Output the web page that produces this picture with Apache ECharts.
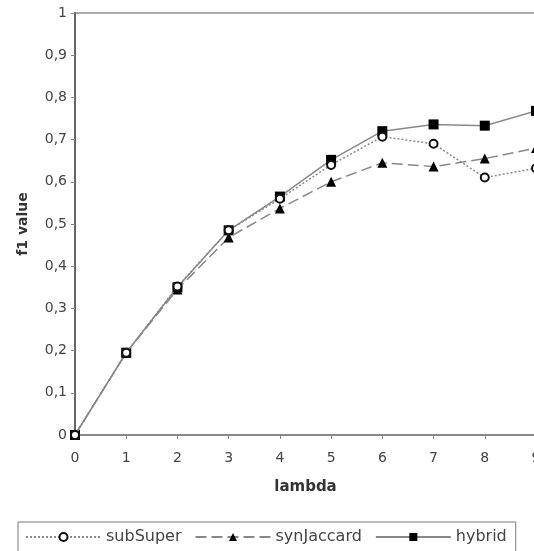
<!DOCTYPE html>
<html>
<head>
<meta charset="utf-8">
<script src="https://cdn.jsdelivr.net/npm/echarts@6/dist/echarts.min.js"></script>
<style>
  html, body { margin: 0; padding: 0; background: #fff; }
  #chart { width: 534px; height: 551px; }
</style>
</head>
<body>
<div id="chart"></div>
<script>
  // lambda values on the x axis
  const lambdas = [0, 1, 2, 3, 4, 5, 6, 7, 8, 9]
  // f1 value per lambda
  const subSuper = [0, 0.195, 0.352, 0.485, 0.56, 0.64, 0.707, 0.69, 0.61, 0.632]
  const synJaccard = [0, 0.195, 0.345, 0.468, 0.537, 0.6, 0.645, 0.636, 0.655, 0.68]
  const hybrid = [0, 0.195, 0.35, 0.485, 0.565, 0.652, 0.72, 0.736, 0.733, 0.768]

  const font = 'DejaVu Sans'
  const lineGray = '#888'

  const chart = echarts.init(document.getElementById('chart'))

  function pairs(vals) {
    return lambdas.map((x, i) => [x, vals[i]])
  }

  chart.setOption({
    animation: false,
    backgroundColor: '#fff',
    grid: {
      left: 75,
      right: -2,
      top: 13,
      bottom: 116,
      containLabel: false,
      outerBoundsMode: 'none',
      show: true,
      borderColor: '#aaa',
      borderWidth: 2,
      backgroundColor: 'transparent'
    },
    legend: {
      left: 18,
      top: 522,
      padding: [7, 9, 12, 7],
      borderColor: '#777',
      borderWidth: 1,
      itemWidth: 75,
      itemHeight: 10,
      itemGap: 13,
      textStyle: { fontFamily: font, fontSize: 16, color: '#444' },
      data: ['subSuper', 'synJaccard', 'hybrid']
    },
    xAxis: {
      type: 'value',
      min: 0,
      max: 9,
      interval: 1,
      name: 'lambda',
      nameLocation: 'middle',
      nameGap: 45,
      nameTextStyle: { fontFamily: font, fontSize: 15, fontWeight: 'bold', color: '#333' },
      axisLine: { lineStyle: { color: '#888', width: 2 } },
      axisTick: { show: true, length: 4, lineStyle: { color: '#888', width: 1 } },
      axisLabel: { fontFamily: font, fontSize: 14, color: '#444', margin: 16, hideOverlap: false },
      splitLine: { show: false }
    },
    yAxis: {
      type: 'value',
      min: 0,
      max: 1,
      interval: 0.1,
      name: 'f1 value',
      nameLocation: 'middle',
      nameGap: 45,
      nameRotate: 90,
      nameTextStyle: { fontFamily: font, fontSize: 14, fontWeight: 'bold', color: '#333' },
      axisLine: { show: true, lineStyle: { color: '#666', width: 2 } },
      axisTick: { show: true, length: 4, lineStyle: { color: '#888', width: 1 } },
      axisLabel: {
        fontFamily: font,
        fontSize: 14,
        color: '#444',
        margin: 8,
        formatter: function(v) {
          if (v === 0 || v === 1) return String(v)
          return v.toFixed(1).replace('.', ',')
        }
      },
      splitLine: { show: false }
    },
    series: [
      {
        name: 'subSuper',
        type: 'line',
        data: pairs(subSuper),
        symbol: 'circle',
        symbolSize: 8,
        lineStyle: { color: lineGray, width: 1.5, type: [2, 2] },
        itemStyle: { color: '#fff', borderColor: '#111', borderWidth: 2 },
        z: 3
      },
      {
        name: 'synJaccard',
        type: 'line',
        data: pairs(synJaccard),
        symbol: 'triangle',
        symbolSize: 10,
        lineStyle: { color: lineGray, width: 1.5, type: [11, 5] },
        itemStyle: { color: '#000' },
        z: 2
      },
      {
        name: 'hybrid',
        type: 'line',
        data: pairs(hybrid),
        symbol: 'rect',
        symbolSize: 10,
        lineStyle: { color: lineGray, width: 1.5 },
        itemStyle: { color: '#000' },
        z: 1
      }
    ]
  })
</script>
</body>
</html>
